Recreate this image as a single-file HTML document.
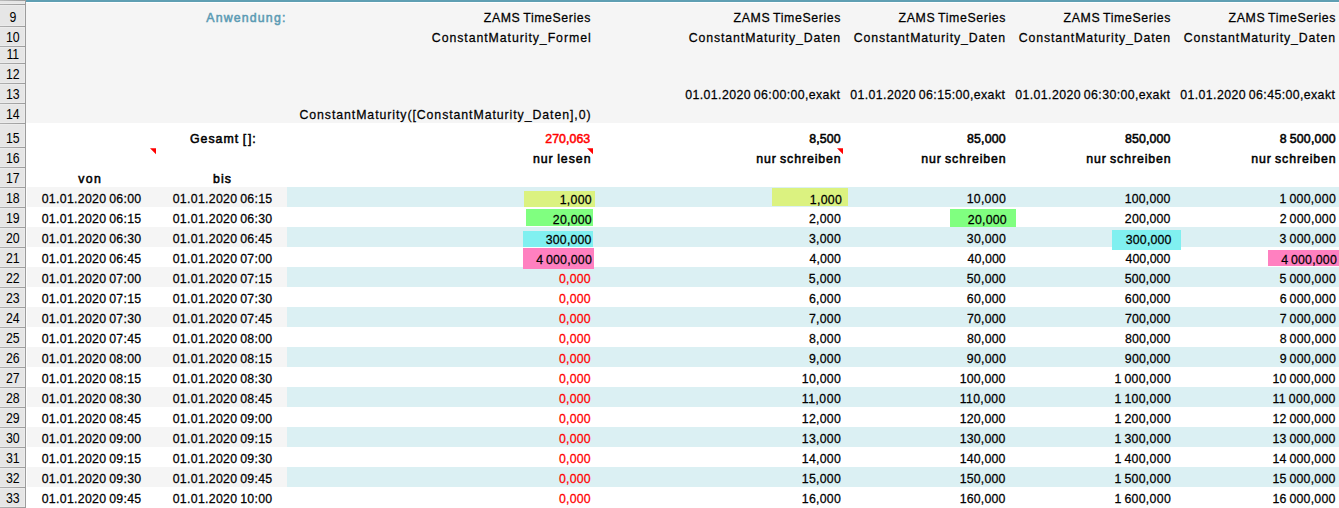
<!DOCTYPE html>
<html><head><meta charset="utf-8"><style>
html,body{margin:0;padding:0;background:#fff;}
svg{display:block;font-family:"Liberation Sans",sans-serif;font-size:13px;word-spacing:-1px;}
</style></head><body>
<svg width="1339" height="508" viewBox="0 0 1339 508">
<rect x="0" y="0" width="1339" height="508" fill="#ffffff"/>
<rect x="26" y="3" width="1313" height="120" fill="#f5f5f5"/>
<rect x="26" y="0" width="1313" height="2" fill="#5f9fb3"/>
<rect x="26" y="2" width="1313" height="1" fill="#ffffff"/>
<rect x="27" y="187" width="260" height="20" fill="#f5f5f5"/>
<rect x="287" y="187" width="1052" height="20" fill="#dbf0f3"/>
<rect x="27" y="227" width="260" height="20" fill="#f5f5f5"/>
<rect x="287" y="227" width="1052" height="20" fill="#dbf0f3"/>
<rect x="27" y="267" width="260" height="20" fill="#f5f5f5"/>
<rect x="287" y="267" width="1052" height="20" fill="#dbf0f3"/>
<rect x="27" y="307" width="260" height="20" fill="#f5f5f5"/>
<rect x="287" y="307" width="1052" height="20" fill="#dbf0f3"/>
<rect x="27" y="347" width="260" height="20" fill="#f5f5f5"/>
<rect x="287" y="347" width="1052" height="20" fill="#dbf0f3"/>
<rect x="27" y="387" width="260" height="20" fill="#f5f5f5"/>
<rect x="287" y="387" width="1052" height="20" fill="#dbf0f3"/>
<rect x="27" y="427" width="260" height="20" fill="#f5f5f5"/>
<rect x="287" y="427" width="1052" height="20" fill="#dbf0f3"/>
<rect x="27" y="467" width="260" height="20" fill="#f5f5f5"/>
<rect x="287" y="467" width="1052" height="20" fill="#dbf0f3"/>
<rect x="524" y="191" width="71" height="16" fill="#dbf280"/>
<rect x="772" y="188" width="76" height="18" fill="#dbf280"/>
<rect x="526" y="209" width="67" height="17" fill="#80ff80"/>
<rect x="950" y="209" width="66" height="18" fill="#80ff80"/>
<rect x="523" y="231" width="70" height="16" fill="#80f0f0"/>
<rect x="1112" y="230" width="69" height="20" fill="#80f0f0"/>
<rect x="523" y="248" width="71" height="21" fill="#ff80c0"/>
<rect x="1268" y="250" width="71" height="16" fill="#ff80c0"/>
<polygon points="150,148.2 156,148.2 156,154.3" fill="#ff0000"/>
<polygon points="587,148.2 593,148.2 593,154.3" fill="#ff0000"/>
<polygon points="837,148.2 843,148.2 843,154.3" fill="#ff0000"/>
<defs><linearGradient id="hg" x1="0" x2="1" y1="0" y2="0"><stop offset="0" stop-color="#bcbcbc"/><stop offset="1" stop-color="#999999"/></linearGradient><linearGradient id="hg2" x1="0" x2="1" y1="0" y2="0"><stop offset="0" stop-color="#b0b0b0"/><stop offset="1" stop-color="#9c9c9c"/></linearGradient></defs>
<rect x="0" y="0" width="25" height="508" fill="#e6e6e6"/>
<rect x="24" y="0" width="1" height="508" fill="#ebebeb"/>
<rect x="0" y="3" width="24" height="1" fill="#ebebeb"/>
<rect x="0" y="5" width="24" height="1" fill="#ececec"/>
<rect x="0" y="25" width="24" height="1" fill="#ebebeb"/>
<rect x="0" y="27" width="24" height="1" fill="#ececec"/>
<rect x="0" y="45" width="24" height="1" fill="#ebebeb"/>
<rect x="0" y="47" width="24" height="1" fill="#ececec"/>
<rect x="0" y="62" width="24" height="1" fill="#ebebeb"/>
<rect x="0" y="64" width="24" height="1" fill="#ececec"/>
<rect x="0" y="82" width="24" height="1" fill="#ebebeb"/>
<rect x="0" y="84" width="24" height="1" fill="#ececec"/>
<rect x="0" y="102" width="24" height="1" fill="#ebebeb"/>
<rect x="0" y="104" width="24" height="1" fill="#ececec"/>
<rect x="0" y="122" width="24" height="1" fill="#ebebeb"/>
<rect x="0" y="124" width="24" height="1" fill="#ececec"/>
<rect x="0" y="146" width="24" height="1" fill="#ebebeb"/>
<rect x="0" y="148" width="24" height="1" fill="#ececec"/>
<rect x="0" y="166" width="24" height="1" fill="#ebebeb"/>
<rect x="0" y="168" width="24" height="1" fill="#ececec"/>
<rect x="0" y="186" width="24" height="1" fill="#ebebeb"/>
<rect x="0" y="188" width="24" height="1" fill="#ececec"/>
<rect x="0" y="206" width="24" height="1" fill="#ebebeb"/>
<rect x="0" y="208" width="24" height="1" fill="#ececec"/>
<rect x="0" y="226" width="24" height="1" fill="#ebebeb"/>
<rect x="0" y="228" width="24" height="1" fill="#ececec"/>
<rect x="0" y="246" width="24" height="1" fill="#ebebeb"/>
<rect x="0" y="248" width="24" height="1" fill="#ececec"/>
<rect x="0" y="266" width="24" height="1" fill="#ebebeb"/>
<rect x="0" y="268" width="24" height="1" fill="#ececec"/>
<rect x="0" y="286" width="24" height="1" fill="#ebebeb"/>
<rect x="0" y="288" width="24" height="1" fill="#ececec"/>
<rect x="0" y="306" width="24" height="1" fill="#ebebeb"/>
<rect x="0" y="308" width="24" height="1" fill="#ececec"/>
<rect x="0" y="326" width="24" height="1" fill="#ebebeb"/>
<rect x="0" y="328" width="24" height="1" fill="#ececec"/>
<rect x="0" y="346" width="24" height="1" fill="#ebebeb"/>
<rect x="0" y="348" width="24" height="1" fill="#ececec"/>
<rect x="0" y="366" width="24" height="1" fill="#ebebeb"/>
<rect x="0" y="368" width="24" height="1" fill="#ececec"/>
<rect x="0" y="386" width="24" height="1" fill="#ebebeb"/>
<rect x="0" y="388" width="24" height="1" fill="#ececec"/>
<rect x="0" y="406" width="24" height="1" fill="#ebebeb"/>
<rect x="0" y="408" width="24" height="1" fill="#ececec"/>
<rect x="0" y="426" width="24" height="1" fill="#ebebeb"/>
<rect x="0" y="428" width="24" height="1" fill="#ececec"/>
<rect x="0" y="446" width="24" height="1" fill="#ebebeb"/>
<rect x="0" y="448" width="24" height="1" fill="#ececec"/>
<rect x="0" y="466" width="24" height="1" fill="#ebebeb"/>
<rect x="0" y="468" width="24" height="1" fill="#ececec"/>
<rect x="0" y="486" width="24" height="1" fill="#ebebeb"/>
<rect x="0" y="488" width="24" height="1" fill="#ececec"/>
<rect x="0" y="506" width="24" height="1" fill="#ebebeb"/>
<rect x="0" y="508" width="24" height="1" fill="#ececec"/>
<rect x="0" y="0" width="25" height="1" fill="url(#hg)"/>
<rect x="0" y="4" width="25" height="1" fill="url(#hg2)"/>
<rect x="0" y="26" width="25" height="1" fill="url(#hg2)"/>
<rect x="0" y="46" width="25" height="1" fill="url(#hg2)"/>
<rect x="0" y="63" width="25" height="1" fill="url(#hg2)"/>
<rect x="0" y="83" width="25" height="1" fill="url(#hg2)"/>
<rect x="0" y="103" width="25" height="1" fill="url(#hg2)"/>
<rect x="0" y="123" width="25" height="1" fill="url(#hg2)"/>
<rect x="0" y="147" width="25" height="1" fill="url(#hg2)"/>
<rect x="0" y="167" width="25" height="1" fill="url(#hg2)"/>
<rect x="0" y="187" width="25" height="1" fill="url(#hg2)"/>
<rect x="0" y="207" width="25" height="1" fill="url(#hg2)"/>
<rect x="0" y="227" width="25" height="1" fill="url(#hg2)"/>
<rect x="0" y="247" width="25" height="1" fill="url(#hg2)"/>
<rect x="0" y="267" width="25" height="1" fill="url(#hg2)"/>
<rect x="0" y="287" width="25" height="1" fill="url(#hg2)"/>
<rect x="0" y="307" width="25" height="1" fill="url(#hg2)"/>
<rect x="0" y="327" width="25" height="1" fill="url(#hg2)"/>
<rect x="0" y="347" width="25" height="1" fill="url(#hg2)"/>
<rect x="0" y="367" width="25" height="1" fill="url(#hg2)"/>
<rect x="0" y="387" width="25" height="1" fill="url(#hg2)"/>
<rect x="0" y="407" width="25" height="1" fill="url(#hg2)"/>
<rect x="0" y="427" width="25" height="1" fill="url(#hg2)"/>
<rect x="0" y="447" width="25" height="1" fill="url(#hg2)"/>
<rect x="0" y="467" width="25" height="1" fill="url(#hg2)"/>
<rect x="0" y="487" width="25" height="1" fill="url(#hg2)"/>
<rect x="0" y="507" width="25" height="1" fill="url(#hg2)"/>
<rect x="25" y="0" width="1" height="508" fill="#9c9c9c"/>
<text transform="translate(206.26 22) scale(0.9500 1)" fill="#5b9bb4" stroke="#5b9bb4" stroke-width="0.55" letter-spacing="1.233">Anwendung:</text>
<text transform="translate(483.78 22) scale(0.9500 1)" fill="#000" stroke="#000" stroke-width="0.25" letter-spacing="0.622">ZAMS TimeSeries</text>
<text transform="translate(431.86 42) scale(0.9500 1)" fill="#000" stroke="#000" stroke-width="0.25" letter-spacing="0.976">ConstantMaturity_Formel</text>
<text transform="translate(733.58 22) scale(0.9500 1)" fill="#000" stroke="#000" stroke-width="0.25" letter-spacing="0.637">ZAMS TimeSeries</text>
<text transform="translate(688.76 42) scale(0.9500 1)" fill="#000" stroke="#000" stroke-width="0.25" letter-spacing="0.928">ConstantMaturity_Daten</text>
<text transform="translate(685.26 99) scale(0.9500 1)" fill="#000" stroke="#000" stroke-width="0.25" letter-spacing="0.419">01.01.2020 06:00:00,exakt</text>
<text transform="translate(898.58 22) scale(0.9500 1)" fill="#000" stroke="#000" stroke-width="0.25" letter-spacing="0.637">ZAMS TimeSeries</text>
<text transform="translate(853.76 42) scale(0.9500 1)" fill="#000" stroke="#000" stroke-width="0.25" letter-spacing="0.928">ConstantMaturity_Daten</text>
<text transform="translate(850.26 99) scale(0.9500 1)" fill="#000" stroke="#000" stroke-width="0.25" letter-spacing="0.419">01.01.2020 06:15:00,exakt</text>
<text transform="translate(1063.58 22) scale(0.9500 1)" fill="#000" stroke="#000" stroke-width="0.25" letter-spacing="0.637">ZAMS TimeSeries</text>
<text transform="translate(1018.76 42) scale(0.9500 1)" fill="#000" stroke="#000" stroke-width="0.25" letter-spacing="0.928">ConstantMaturity_Daten</text>
<text transform="translate(1015.26 99) scale(0.9500 1)" fill="#000" stroke="#000" stroke-width="0.25" letter-spacing="0.419">01.01.2020 06:30:00,exakt</text>
<text transform="translate(1228.58 22) scale(0.9500 1)" fill="#000" stroke="#000" stroke-width="0.25" letter-spacing="0.637">ZAMS TimeSeries</text>
<text transform="translate(1183.76 42) scale(0.9500 1)" fill="#000" stroke="#000" stroke-width="0.25" letter-spacing="0.928">ConstantMaturity_Daten</text>
<text transform="translate(1180.26 99) scale(0.9500 1)" fill="#000" stroke="#000" stroke-width="0.25" letter-spacing="0.419">01.01.2020 06:45:00,exakt</text>
<text transform="translate(299.46 119) scale(0.9500 1)" fill="#000" stroke="#000" stroke-width="0.25" letter-spacing="0.970">ConstantMaturity([ConstantMaturity_Daten],0)</text>
<text transform="translate(189.89 143) scale(0.9500 1)" fill="#000" stroke="#000" stroke-width="0.55" letter-spacing="1.088">Gesamt [<tspan dx="0.7">]:</tspan></text>
<text transform="translate(545.24 143) scale(0.9500 1)" fill="#ff0000" stroke="#ff0000" stroke-width="0.55" letter-spacing="0.068">270,063</text>
<text transform="translate(809.15 143) scale(0.9500 1)" fill="#000" stroke="#000" stroke-width="0.55" letter-spacing="0.186">8,500</text>
<text transform="translate(967.05 143) scale(0.9500 1)" fill="#000" stroke="#000" stroke-width="0.55" letter-spacing="0.180">85,000</text>
<text transform="translate(1125.05 143) scale(0.9500 1)" fill="#000" stroke="#000" stroke-width="0.55" letter-spacing="0.131">850,000</text>
<text transform="translate(1279.85 143) scale(0.9500 1)" fill="#000" stroke="#000" stroke-width="0.55" letter-spacing="0.251">8 500,000</text>
<text transform="translate(532.94 163) scale(0.9500 1)" fill="#000" stroke="#000" stroke-width="0.55" letter-spacing="1.031">nur lesen</text>
<text transform="translate(756.24 163) scale(0.9500 1)" fill="#000" stroke="#000" stroke-width="0.55" letter-spacing="0.930">nur schreiben</text>
<text transform="translate(921.24 163) scale(0.9500 1)" fill="#000" stroke="#000" stroke-width="0.55" letter-spacing="0.930">nur schreiben</text>
<text transform="translate(1086.24 163) scale(0.9500 1)" fill="#000" stroke="#000" stroke-width="0.55" letter-spacing="0.930">nur schreiben</text>
<text transform="translate(1251.24 163) scale(0.9500 1)" fill="#000" stroke="#000" stroke-width="0.55" letter-spacing="0.930">nur schreiben</text>
<text transform="translate(78.16 183) scale(0.9500 1)" fill="#000" stroke="#000" stroke-width="0.55" letter-spacing="1.532">von</text>
<text transform="translate(212.96 183) scale(0.9500 1)" fill="#000" stroke="#000" stroke-width="0.55" letter-spacing="1.153">bis</text>
<text transform="translate(41.71 203) scale(0.9500 1)" fill="#000" stroke="#000" stroke-width="0.25" letter-spacing="0.312">01.01.2020 06:00</text>
<text transform="translate(172.71 203) scale(0.9500 1)" fill="#000" stroke="#000" stroke-width="0.25" letter-spacing="0.314">01.01.2020 06:15</text>
<text transform="translate(559.65 204) scale(0.9500 1)" fill="#000" stroke="#000" stroke-width="0.25" letter-spacing="0.321">1,000</text>
<text transform="translate(809.75 204) scale(0.9500 1)" fill="#000" stroke="#000" stroke-width="0.25" letter-spacing="0.321">1,000</text>
<text transform="translate(966.65 203) scale(0.9500 1)" fill="#000" stroke="#000" stroke-width="0.25" letter-spacing="0.290">10,000</text>
<text transform="translate(1124.65 203) scale(0.9500 1)" fill="#000" stroke="#000" stroke-width="0.25" letter-spacing="0.206">100,000</text>
<text transform="translate(1279.45 203) scale(0.9500 1)" fill="#000" stroke="#000" stroke-width="0.25" letter-spacing="0.319">1 000,000</text>
<text transform="translate(41.71 223) scale(0.9500 1)" fill="#000" stroke="#000" stroke-width="0.25" letter-spacing="0.314">01.01.2020 06:15</text>
<text transform="translate(172.71 223) scale(0.9500 1)" fill="#000" stroke="#000" stroke-width="0.25" letter-spacing="0.312">01.01.2020 06:30</text>
<text transform="translate(552.87 224) scale(0.9500 1)" fill="#000" stroke="#000" stroke-width="0.25" letter-spacing="0.243">20,000</text>
<text transform="translate(808.97 223) scale(0.9500 1)" fill="#000" stroke="#000" stroke-width="0.25" letter-spacing="0.263">2,000</text>
<text transform="translate(967.87 224) scale(0.9500 1)" fill="#000" stroke="#000" stroke-width="0.25" letter-spacing="0.243">20,000</text>
<text transform="translate(1124.87 223) scale(0.9500 1)" fill="#000" stroke="#000" stroke-width="0.25" letter-spacing="0.167">200,000</text>
<text transform="translate(1279.67 223) scale(0.9500 1)" fill="#000" stroke="#000" stroke-width="0.25" letter-spacing="0.290">2 000,000</text>
<text transform="translate(41.71 243) scale(0.9500 1)" fill="#000" stroke="#000" stroke-width="0.25" letter-spacing="0.312">01.01.2020 06:30</text>
<text transform="translate(172.71 243) scale(0.9500 1)" fill="#000" stroke="#000" stroke-width="0.25" letter-spacing="0.314">01.01.2020 06:45</text>
<text transform="translate(545.81 244) scale(0.9500 1)" fill="#000" stroke="#000" stroke-width="0.25" letter-spacing="0.178">300,000</text>
<text transform="translate(808.91 243) scale(0.9500 1)" fill="#000" stroke="#000" stroke-width="0.25" letter-spacing="0.278">3,000</text>
<text transform="translate(966.81 243) scale(0.9500 1)" fill="#000" stroke="#000" stroke-width="0.25" letter-spacing="0.256">30,000</text>
<text transform="translate(1125.81 244) scale(0.9500 1)" fill="#000" stroke="#000" stroke-width="0.25" letter-spacing="0.178">300,000</text>
<text transform="translate(1279.61 243) scale(0.9500 1)" fill="#000" stroke="#000" stroke-width="0.25" letter-spacing="0.298">3 000,000</text>
<text transform="translate(41.71 263) scale(0.9500 1)" fill="#000" stroke="#000" stroke-width="0.25" letter-spacing="0.314">01.01.2020 06:45</text>
<text transform="translate(172.71 263) scale(0.9500 1)" fill="#000" stroke="#000" stroke-width="0.25" letter-spacing="0.312">01.01.2020 07:00</text>
<text transform="translate(536.26 264) scale(0.9500 1)" fill="#000" stroke="#000" stroke-width="0.25" letter-spacing="0.212">4 000,000</text>
<text transform="translate(809.56 263) scale(0.9500 1)" fill="#000" stroke="#000" stroke-width="0.25" letter-spacing="0.107">4,000</text>
<text transform="translate(967.46 263) scale(0.9500 1)" fill="#000" stroke="#000" stroke-width="0.25" letter-spacing="0.118">40,000</text>
<text transform="translate(1125.46 263) scale(0.9500 1)" fill="#000" stroke="#000" stroke-width="0.25" letter-spacing="0.063">400,000</text>
<text transform="translate(1281.26 264) scale(0.9500 1)" fill="#000" stroke="#000" stroke-width="0.25" letter-spacing="0.212">4 000,000</text>
<text transform="translate(41.71 283) scale(0.9500 1)" fill="#000" stroke="#000" stroke-width="0.25" letter-spacing="0.312">01.01.2020 07:00</text>
<text transform="translate(172.71 283) scale(0.9500 1)" fill="#000" stroke="#000" stroke-width="0.25" letter-spacing="0.314">01.01.2020 07:15</text>
<text transform="translate(558.96 283) scale(0.9500 1)" fill="#ff0000" stroke="#ff0000" stroke-width="0.25" letter-spacing="0.240">0,000</text>
<text transform="translate(808.86 283) scale(0.9500 1)" fill="#000" stroke="#000" stroke-width="0.25" letter-spacing="0.291">5,000</text>
<text transform="translate(966.76 283) scale(0.9500 1)" fill="#000" stroke="#000" stroke-width="0.25" letter-spacing="0.266">50,000</text>
<text transform="translate(1124.76 283) scale(0.9500 1)" fill="#000" stroke="#000" stroke-width="0.25" letter-spacing="0.186">500,000</text>
<text transform="translate(1279.56 283) scale(0.9500 1)" fill="#000" stroke="#000" stroke-width="0.25" letter-spacing="0.304">5 000,000</text>
<text transform="translate(41.71 303) scale(0.9500 1)" fill="#000" stroke="#000" stroke-width="0.25" letter-spacing="0.314">01.01.2020 07:15</text>
<text transform="translate(172.71 303) scale(0.9500 1)" fill="#000" stroke="#000" stroke-width="0.25" letter-spacing="0.312">01.01.2020 07:30</text>
<text transform="translate(558.96 303) scale(0.9500 1)" fill="#ff0000" stroke="#ff0000" stroke-width="0.25" letter-spacing="0.240">0,000</text>
<text transform="translate(808.96 303) scale(0.9500 1)" fill="#000" stroke="#000" stroke-width="0.25" letter-spacing="0.265">6,000</text>
<text transform="translate(966.86 303) scale(0.9500 1)" fill="#000" stroke="#000" stroke-width="0.25" letter-spacing="0.245">60,000</text>
<text transform="translate(1124.86 303) scale(0.9500 1)" fill="#000" stroke="#000" stroke-width="0.25" letter-spacing="0.168">600,000</text>
<text transform="translate(1279.66 303) scale(0.9500 1)" fill="#000" stroke="#000" stroke-width="0.25" letter-spacing="0.291">6 000,000</text>
<text transform="translate(41.71 323) scale(0.9500 1)" fill="#000" stroke="#000" stroke-width="0.25" letter-spacing="0.312">01.01.2020 07:30</text>
<text transform="translate(172.71 323) scale(0.9500 1)" fill="#000" stroke="#000" stroke-width="0.25" letter-spacing="0.314">01.01.2020 07:45</text>
<text transform="translate(558.96 323) scale(0.9500 1)" fill="#ff0000" stroke="#ff0000" stroke-width="0.25" letter-spacing="0.240">0,000</text>
<text transform="translate(809.03 323) scale(0.9500 1)" fill="#000" stroke="#000" stroke-width="0.25" letter-spacing="0.246">7,000</text>
<text transform="translate(966.93 323) scale(0.9500 1)" fill="#000" stroke="#000" stroke-width="0.25" letter-spacing="0.230">70,000</text>
<text transform="translate(1124.93 323) scale(0.9500 1)" fill="#000" stroke="#000" stroke-width="0.25" letter-spacing="0.156">700,000</text>
<text transform="translate(1279.73 323) scale(0.9500 1)" fill="#000" stroke="#000" stroke-width="0.25" letter-spacing="0.282">7 000,000</text>
<text transform="translate(41.71 343) scale(0.9500 1)" fill="#000" stroke="#000" stroke-width="0.25" letter-spacing="0.314">01.01.2020 07:45</text>
<text transform="translate(172.71 343) scale(0.9500 1)" fill="#000" stroke="#000" stroke-width="0.25" letter-spacing="0.312">01.01.2020 08:00</text>
<text transform="translate(558.96 343) scale(0.9500 1)" fill="#ff0000" stroke="#ff0000" stroke-width="0.25" letter-spacing="0.240">0,000</text>
<text transform="translate(809.01 343) scale(0.9500 1)" fill="#000" stroke="#000" stroke-width="0.25" letter-spacing="0.252">8,000</text>
<text transform="translate(966.91 343) scale(0.9500 1)" fill="#000" stroke="#000" stroke-width="0.25" letter-spacing="0.234">80,000</text>
<text transform="translate(1124.91 343) scale(0.9500 1)" fill="#000" stroke="#000" stroke-width="0.25" letter-spacing="0.160">800,000</text>
<text transform="translate(1279.71 343) scale(0.9500 1)" fill="#000" stroke="#000" stroke-width="0.25" letter-spacing="0.285">8 000,000</text>
<text transform="translate(41.71 363) scale(0.9500 1)" fill="#000" stroke="#000" stroke-width="0.25" letter-spacing="0.312">01.01.2020 08:00</text>
<text transform="translate(172.71 363) scale(0.9500 1)" fill="#000" stroke="#000" stroke-width="0.25" letter-spacing="0.314">01.01.2020 08:15</text>
<text transform="translate(558.96 363) scale(0.9500 1)" fill="#ff0000" stroke="#ff0000" stroke-width="0.25" letter-spacing="0.240">0,000</text>
<text transform="translate(808.96 363) scale(0.9500 1)" fill="#000" stroke="#000" stroke-width="0.25" letter-spacing="0.267">9,000</text>
<text transform="translate(966.86 363) scale(0.9500 1)" fill="#000" stroke="#000" stroke-width="0.25" letter-spacing="0.246">90,000</text>
<text transform="translate(1124.86 363) scale(0.9500 1)" fill="#000" stroke="#000" stroke-width="0.25" letter-spacing="0.170">900,000</text>
<text transform="translate(1279.66 363) scale(0.9500 1)" fill="#000" stroke="#000" stroke-width="0.25" letter-spacing="0.292">9 000,000</text>
<text transform="translate(41.71 383) scale(0.9500 1)" fill="#000" stroke="#000" stroke-width="0.25" letter-spacing="0.314">01.01.2020 08:15</text>
<text transform="translate(172.71 383) scale(0.9500 1)" fill="#000" stroke="#000" stroke-width="0.25" letter-spacing="0.312">01.01.2020 08:30</text>
<text transform="translate(558.96 383) scale(0.9500 1)" fill="#ff0000" stroke="#ff0000" stroke-width="0.25" letter-spacing="0.240">0,000</text>
<text transform="translate(801.75 383) scale(0.9500 1)" fill="#000" stroke="#000" stroke-width="0.25" letter-spacing="0.290">10,000</text>
<text transform="translate(959.65 383) scale(0.9500 1)" fill="#000" stroke="#000" stroke-width="0.25" letter-spacing="0.206">100,000</text>
<text transform="translate(1114.45 383) scale(0.9500 1)" fill="#000" stroke="#000" stroke-width="0.25" letter-spacing="0.319">1 000,000</text>
<text transform="translate(1272.45 383) scale(0.9500 1)" fill="#000" stroke="#000" stroke-width="0.25" letter-spacing="0.260">10 000,000</text>
<text transform="translate(41.71 403) scale(0.9500 1)" fill="#000" stroke="#000" stroke-width="0.25" letter-spacing="0.312">01.01.2020 08:30</text>
<text transform="translate(172.71 403) scale(0.9500 1)" fill="#000" stroke="#000" stroke-width="0.25" letter-spacing="0.314">01.01.2020 08:45</text>
<text transform="translate(558.96 403) scale(0.9500 1)" fill="#ff0000" stroke="#ff0000" stroke-width="0.25" letter-spacing="0.240">0,000</text>
<text transform="translate(801.75 403) scale(0.9500 1)" fill="#000" stroke="#000" stroke-width="0.25" letter-spacing="0.490">11,000</text>
<text transform="translate(959.65 403) scale(0.9500 1)" fill="#000" stroke="#000" stroke-width="0.25" letter-spacing="0.373">110,000</text>
<text transform="translate(1114.45 403) scale(0.9500 1)" fill="#000" stroke="#000" stroke-width="0.25" letter-spacing="0.319">1 100,000</text>
<text transform="translate(1272.45 403) scale(0.9500 1)" fill="#000" stroke="#000" stroke-width="0.25" letter-spacing="0.372">11 000,000</text>
<text transform="translate(41.71 423) scale(0.9500 1)" fill="#000" stroke="#000" stroke-width="0.25" letter-spacing="0.314">01.01.2020 08:45</text>
<text transform="translate(172.71 423) scale(0.9500 1)" fill="#000" stroke="#000" stroke-width="0.25" letter-spacing="0.312">01.01.2020 09:00</text>
<text transform="translate(558.96 423) scale(0.9500 1)" fill="#ff0000" stroke="#ff0000" stroke-width="0.25" letter-spacing="0.240">0,000</text>
<text transform="translate(801.75 423) scale(0.9500 1)" fill="#000" stroke="#000" stroke-width="0.25" letter-spacing="0.290">12,000</text>
<text transform="translate(959.65 423) scale(0.9500 1)" fill="#000" stroke="#000" stroke-width="0.25" letter-spacing="0.206">120,000</text>
<text transform="translate(1114.45 423) scale(0.9500 1)" fill="#000" stroke="#000" stroke-width="0.25" letter-spacing="0.319">1 200,000</text>
<text transform="translate(1272.45 423) scale(0.9500 1)" fill="#000" stroke="#000" stroke-width="0.25" letter-spacing="0.260">12 000,000</text>
<text transform="translate(41.71 443) scale(0.9500 1)" fill="#000" stroke="#000" stroke-width="0.25" letter-spacing="0.312">01.01.2020 09:00</text>
<text transform="translate(172.71 443) scale(0.9500 1)" fill="#000" stroke="#000" stroke-width="0.25" letter-spacing="0.314">01.01.2020 09:15</text>
<text transform="translate(558.96 443) scale(0.9500 1)" fill="#ff0000" stroke="#ff0000" stroke-width="0.25" letter-spacing="0.240">0,000</text>
<text transform="translate(801.75 443) scale(0.9500 1)" fill="#000" stroke="#000" stroke-width="0.25" letter-spacing="0.290">13,000</text>
<text transform="translate(959.65 443) scale(0.9500 1)" fill="#000" stroke="#000" stroke-width="0.25" letter-spacing="0.206">130,000</text>
<text transform="translate(1114.45 443) scale(0.9500 1)" fill="#000" stroke="#000" stroke-width="0.25" letter-spacing="0.319">1 300,000</text>
<text transform="translate(1272.45 443) scale(0.9500 1)" fill="#000" stroke="#000" stroke-width="0.25" letter-spacing="0.260">13 000,000</text>
<text transform="translate(41.71 463) scale(0.9500 1)" fill="#000" stroke="#000" stroke-width="0.25" letter-spacing="0.314">01.01.2020 09:15</text>
<text transform="translate(172.71 463) scale(0.9500 1)" fill="#000" stroke="#000" stroke-width="0.25" letter-spacing="0.312">01.01.2020 09:30</text>
<text transform="translate(558.96 463) scale(0.9500 1)" fill="#ff0000" stroke="#ff0000" stroke-width="0.25" letter-spacing="0.240">0,000</text>
<text transform="translate(801.75 463) scale(0.9500 1)" fill="#000" stroke="#000" stroke-width="0.25" letter-spacing="0.290">14,000</text>
<text transform="translate(959.65 463) scale(0.9500 1)" fill="#000" stroke="#000" stroke-width="0.25" letter-spacing="0.206">140,000</text>
<text transform="translate(1114.45 463) scale(0.9500 1)" fill="#000" stroke="#000" stroke-width="0.25" letter-spacing="0.319">1 400,000</text>
<text transform="translate(1272.45 463) scale(0.9500 1)" fill="#000" stroke="#000" stroke-width="0.25" letter-spacing="0.260">14 000,000</text>
<text transform="translate(41.71 483) scale(0.9500 1)" fill="#000" stroke="#000" stroke-width="0.25" letter-spacing="0.312">01.01.2020 09:30</text>
<text transform="translate(172.71 483) scale(0.9500 1)" fill="#000" stroke="#000" stroke-width="0.25" letter-spacing="0.314">01.01.2020 09:45</text>
<text transform="translate(558.96 483) scale(0.9500 1)" fill="#ff0000" stroke="#ff0000" stroke-width="0.25" letter-spacing="0.240">0,000</text>
<text transform="translate(801.75 483) scale(0.9500 1)" fill="#000" stroke="#000" stroke-width="0.25" letter-spacing="0.290">15,000</text>
<text transform="translate(959.65 483) scale(0.9500 1)" fill="#000" stroke="#000" stroke-width="0.25" letter-spacing="0.206">150,000</text>
<text transform="translate(1114.45 483) scale(0.9500 1)" fill="#000" stroke="#000" stroke-width="0.25" letter-spacing="0.319">1 500,000</text>
<text transform="translate(1272.45 483) scale(0.9500 1)" fill="#000" stroke="#000" stroke-width="0.25" letter-spacing="0.260">15 000,000</text>
<text transform="translate(41.71 503) scale(0.9500 1)" fill="#000" stroke="#000" stroke-width="0.25" letter-spacing="0.314">01.01.2020 09:45</text>
<text transform="translate(172.71 503) scale(0.9500 1)" fill="#000" stroke="#000" stroke-width="0.25" letter-spacing="0.312">01.01.2020 10:00</text>
<text transform="translate(558.96 503) scale(0.9500 1)" fill="#ff0000" stroke="#ff0000" stroke-width="0.25" letter-spacing="0.240">0,000</text>
<text transform="translate(801.75 503) scale(0.9500 1)" fill="#000" stroke="#000" stroke-width="0.25" letter-spacing="0.290">16,000</text>
<text transform="translate(959.65 503) scale(0.9500 1)" fill="#000" stroke="#000" stroke-width="0.25" letter-spacing="0.206">160,000</text>
<text transform="translate(1114.45 503) scale(0.9500 1)" fill="#000" stroke="#000" stroke-width="0.25" letter-spacing="0.319">1 600,000</text>
<text transform="translate(1272.45 503) scale(0.9500 1)" fill="#000" stroke="#000" stroke-width="0.25" letter-spacing="0.260">16 000,000</text>
<text transform="translate(12.8 22) scale(0.88 1)" text-anchor="middle" style="font-size:14px">9</text>
<text transform="translate(12.8 42) scale(0.88 1)" text-anchor="middle" style="font-size:14px">10</text>
<text transform="translate(12.8 59) scale(0.88 1)" text-anchor="middle" style="font-size:14px">11</text>
<text transform="translate(12.8 79) scale(0.88 1)" text-anchor="middle" style="font-size:14px">12</text>
<text transform="translate(12.8 99) scale(0.88 1)" text-anchor="middle" style="font-size:14px">13</text>
<text transform="translate(12.8 119) scale(0.88 1)" text-anchor="middle" style="font-size:14px">14</text>
<text transform="translate(12.8 143) scale(0.88 1)" text-anchor="middle" style="font-size:14px">15</text>
<text transform="translate(12.8 163) scale(0.88 1)" text-anchor="middle" style="font-size:14px">16</text>
<text transform="translate(12.8 183) scale(0.88 1)" text-anchor="middle" style="font-size:14px">17</text>
<text transform="translate(12.8 203) scale(0.88 1)" text-anchor="middle" style="font-size:14px">18</text>
<text transform="translate(12.8 223) scale(0.88 1)" text-anchor="middle" style="font-size:14px">19</text>
<text transform="translate(12.8 243) scale(0.88 1)" text-anchor="middle" style="font-size:14px">20</text>
<text transform="translate(12.8 263) scale(0.88 1)" text-anchor="middle" style="font-size:14px">21</text>
<text transform="translate(12.8 283) scale(0.88 1)" text-anchor="middle" style="font-size:14px">22</text>
<text transform="translate(12.8 303) scale(0.88 1)" text-anchor="middle" style="font-size:14px">23</text>
<text transform="translate(12.8 323) scale(0.88 1)" text-anchor="middle" style="font-size:14px">24</text>
<text transform="translate(12.8 343) scale(0.88 1)" text-anchor="middle" style="font-size:14px">25</text>
<text transform="translate(12.8 363) scale(0.88 1)" text-anchor="middle" style="font-size:14px">26</text>
<text transform="translate(12.8 383) scale(0.88 1)" text-anchor="middle" style="font-size:14px">27</text>
<text transform="translate(12.8 403) scale(0.88 1)" text-anchor="middle" style="font-size:14px">28</text>
<text transform="translate(12.8 423) scale(0.88 1)" text-anchor="middle" style="font-size:14px">29</text>
<text transform="translate(12.8 443) scale(0.88 1)" text-anchor="middle" style="font-size:14px">30</text>
<text transform="translate(12.8 463) scale(0.88 1)" text-anchor="middle" style="font-size:14px">31</text>
<text transform="translate(12.8 483) scale(0.88 1)" text-anchor="middle" style="font-size:14px">32</text>
<text transform="translate(12.8 503) scale(0.88 1)" text-anchor="middle" style="font-size:14px">33</text>
</svg>
</body></html>
